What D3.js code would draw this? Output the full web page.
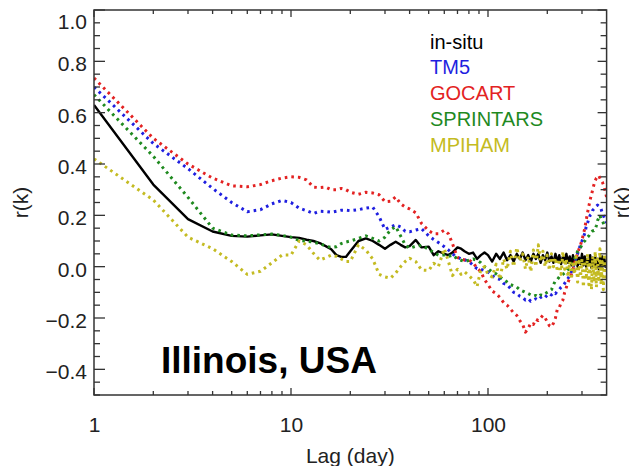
<!DOCTYPE html>
<html><head><meta charset="utf-8">
<script src="https://cdn.jsdelivr.net/npm/d3@7/dist/d3.min.js"></script>
<style>html,body{margin:0;padding:0;background:#fff;}svg{display:block;}</style>
</head><body>
<script>
// ---------- DATA ----------
const lags = [
  1,2,3,4,5,6,7,8,9,10,
  11,12,13,14,15,16,17,18,19,20,
  22,24,26,28,30,32,34,36,38,40,
  43,46,50,53,56,60,63,66,70,73,76,80,84,88,92,96,100,
  105,110,115,120,125,130,135,140,145,150,
  155,160,165,170,175,180,185,190,195,200,
  205,210,215,220,225,230,235,240,245,250,
  255,260,265,270,275,280,285,290,295,300,
  305,310,315,320,325,330,335,340,345,350,
  355,360,365,370,375,380,385,390,395,400
];
const insitu = [
  0.63,0.32,0.185,0.137,0.12,0.117,0.122,0.126,0.12,0.115,
  0.112,0.105,0.1,0.092,0.08,0.068,0.045,0.038,0.038,0.06,
  0.1,0.11,0.1,0.085,0.07,0.085,0.097,0.085,0.075,0.08,
  0.104,0.075,0.078,0.045,0.06,0.05,0.045,0.055,0.075,0.07,0.06,0.05,0.055,0.03,0.045,0.055,0.045,
  0.02,0.05,0.03,0.055,0.025,0.045,0.02,0.05,0.03,0.055,
  0.025,0.045,0.02,0.05,0.03,0.05,0.015,0.045,0.025,0.055,
  0.02,0.04,0.015,0.05,0.02,0.045,0.01,0.04,0.02,0.05,
  0.015,0.04,0.005,0.045,0.015,0.04,0.0,0.035,0.01,0.05,
  0.005,0.04,0.0,0.03,0.01,0.045,-0.005,0.035,0.005,0.04,
  0.0,0.03,-0.01,0.035,0.0,0.04,0.005,0.03,0.0,0.02
];
const tm5 = [
  0.70,0.48,0.382,0.305,0.25,0.214,0.222,0.245,0.258,0.25,
  0.228,0.218,0.207,0.216,0.215,0.212,0.216,0.22,0.22,0.218,
  0.222,0.228,0.232,0.195,0.145,0.155,0.163,0.155,0.138,0.136,
  0.143,0.148,0.12,0.106,0.094,0.078,0.065,0.05,0.037,0.03,0.027,0.02,0.005,-0.008,-0.01,-0.015,-0.02,
  -0.035,-0.045,-0.05,-0.065,-0.07,-0.085,-0.1,-0.105,-0.115,-0.12,
  -0.13,-0.125,-0.135,-0.13,-0.125,-0.13,-0.12,-0.115,-0.12,-0.11,
  -0.105,-0.11,-0.1,-0.105,-0.095,-0.09,-0.08,-0.075,-0.065,-0.055,
  -0.045,-0.035,-0.02,-0.005,0.015,0.035,0.05,0.07,0.085,0.1,
  0.115,0.13,0.155,0.17,0.185,0.2,0.205,0.22,0.225,0.23,
  0.235,0.24,0.235,0.23,0.225,0.21,0.2,0.19,0.18,0.17
];
const gocart = [
  0.735,0.50,0.40,0.345,0.315,0.311,0.32,0.335,0.345,0.35,
  0.348,0.338,0.31,0.308,0.31,0.30,0.30,0.305,0.30,0.29,
  0.282,0.29,0.287,0.28,0.253,0.255,0.272,0.245,0.232,0.225,
  0.21,0.168,0.14,0.128,0.128,0.142,0.128,0.09,0.035,0.03,0.026,0.026,0.015,-0.005,-0.02,-0.05,-0.07,
  -0.095,-0.105,-0.12,-0.14,-0.15,-0.165,-0.18,-0.19,-0.21,-0.225,
  -0.255,-0.24,-0.22,-0.225,-0.205,-0.21,-0.2,-0.19,-0.2,-0.215,
  -0.23,-0.235,-0.22,-0.2,-0.165,-0.16,-0.14,-0.13,-0.1,-0.08,
  -0.06,-0.045,-0.03,-0.01,0.01,0.035,0.05,0.07,0.085,0.105,
  0.125,0.15,0.18,0.21,0.235,0.26,0.28,0.3,0.32,0.335,
  0.345,0.35,0.355,0.345,0.335,0.33,0.32,0.305,0.29,0.27
];
const sprintars = [
  0.67,0.43,0.27,0.15,0.123,0.12,0.124,0.127,0.122,0.115,
  0.102,0.1,0.095,0.09,0.08,0.075,0.078,0.09,0.096,0.1,
  0.11,0.12,0.11,0.1,0.115,0.143,0.156,0.12,0.085,0.072,
  0.08,0.083,0.068,0.055,0.045,0.045,0.04,0.045,0.03,0.025,0.02,0.025,0.03,0.025,0.015,0.0,-0.008,
  -0.02,-0.028,-0.04,-0.05,-0.06,-0.07,-0.075,-0.08,-0.09,-0.095,
  -0.1,-0.105,-0.11,-0.115,-0.112,-0.118,-0.11,-0.112,-0.105,-0.1,
  -0.095,-0.09,-0.07,-0.055,-0.05,-0.04,-0.035,-0.03,-0.025,-0.02,
  -0.01,0.0,0.01,0.02,0.03,0.045,0.06,0.07,0.075,0.085,
  0.095,0.1,0.11,0.115,0.12,0.13,0.135,0.14,0.14,0.145,
  0.16,0.18,0.19,0.2,0.185,0.18,0.17,0.16,0.155,0.15
];
const mpiham = [
  0.42,0.26,0.115,0.07,0.02,-0.03,-0.018,0.015,0.045,0.045,
  0.1,0.085,0.052,0.026,0.035,0.045,0.04,0.03,0.02,0.02,
  0.085,0.065,0.03,-0.03,-0.04,-0.045,-0.025,0.0,0.02,0.033,
  0.02,-0.013,-0.015,0.013,0.0,0.07,0.02,-0.035,-0.01,-0.03,-0.02,-0.035,-0.05,-0.078,-0.01,0.0,-0.03,
  -0.04,0.01,-0.05,0.03,-0.01,0.06,0.0,0.075,0.02,0.05,
  -0.01,0.04,-0.02,0.065,0.0,0.085,0.02,0.06,0.0,0.045,
  -0.015,0.05,0.0,0.035,-0.02,0.03,-0.03,0.06,-0.01,0.03,
  -0.04,0.02,-0.05,0.01,-0.03,0.04,-0.06,0.02,-0.04,0.03,
  -0.08,0.01,-0.05,0.05,-0.07,0.02,-0.09,0.04,-0.06,0.06,
  -0.08,0.03,-0.05,0.07,-0.07,0.02,-0.09,0.05,-0.04,0.02
];
const seriesNames = ["in-situ","TM5","GOCART","SPRINTARS","MPIHAM"];
const seriesColors = ["#000000","#1f1fe0","#e32222","#1f8a1f","#c4bb22"];
const xMajorTicks = [1,10,100];
const xMinorTicks = [2,3,4,5,6,7,8,9,20,30,40,50,60,70,80,90,200,300];
const yTickLabels = [-0.4,-0.2,0.0,0.2,0.4,0.6,0.8];
const yTopLabel = "1.0";
const xLabel = "Lag (day)";
const yLabel = "r(k)";
const siteLabel = "Illinois, USA";

// ---------- LAYOUT ----------
const W = 629, H = 466;
const L = 94, R = 606.6, T = 10, B = 395;
const FONT = "'Liberation Sans', Arial, Helvetica, sans-serif";
const axisColor = "#333";

const svg = d3.select("body").append("svg").attr("width", W).attr("height", H)
  .style("font-family", FONT);

const x = d3.scaleLog().domain([1, 400]).range([L, R]);
const y = d3.scaleLinear().domain([-0.5, 1.0]).range([B, T]);

svg.append("clipPath").attr("id","clip").append("rect")
  .attr("x", L).attr("y", T).attr("width", R - L).attr("height", B - T);

// series
const allSeries = [insitu, tm5, gocart, sprintars, mpiham];
const line = d3.line().x((d,i) => x(lags[i])).y(d => y(d));
const g = svg.append("g").attr("clip-path","url(#clip)");
allSeries.forEach((vals, k) => {
  const p = g.append("path").datum(vals)
    .attr("d", line).attr("fill","none")
    .attr("stroke", seriesColors[k]).attr("stroke-linejoin","round");
  if (k === 0) {
    p.attr("stroke-width", 2.4);
  } else {
    p.attr("stroke-width", 3).attr("stroke-dasharray","2.6 4");
  }
});

// frame
svg.append("rect").attr("x", L).attr("y", T).attr("width", R - L).attr("height", B - T)
  .attr("fill","none").attr("stroke", axisColor).attr("stroke-width", 1.5);

// y ticks (inward, both sides)
const yMinor = d3.range(-10, 21).map(i => +(i * 0.05).toFixed(2));
yMinor.forEach(v => {
  const major = Math.abs(Math.round(v * 10) % 2) === 0 && Math.abs(v * 10 - Math.round(v * 10)) < 1e-6;
  const lenL = major ? 11 : 6, lenR = major ? 9 : 6;
  svg.append("line").attr("x1", L).attr("x2", L + lenL).attr("y1", y(v)).attr("y2", y(v))
    .attr("stroke", axisColor).attr("stroke-width", 1.3);
  svg.append("line").attr("x1", R).attr("x2", R - lenR).attr("y1", y(v)).attr("y2", y(v))
    .attr("stroke", axisColor).attr("stroke-width", 1.3);
});
// x ticks (inward, both sides)
xMajorTicks.concat(xMinorTicks).forEach(v => {
  const len = xMajorTicks.includes(v) ? 7 : 4;
  svg.append("line").attr("x1", x(v)).attr("x2", x(v)).attr("y1", B).attr("y2", B - len)
    .attr("stroke", axisColor).attr("stroke-width", 1.3);
  svg.append("line").attr("x1", x(v)).attr("x2", x(v)).attr("y1", T).attr("y2", T + len)
    .attr("stroke", axisColor).attr("stroke-width", 1.3);
});

// tick labels via axes
const yAxis = d3.axisLeft(y).tickValues(yTickLabels).tickSize(0).tickPadding(7)
  .tickFormat(d3.format(".1f"));
const ya = svg.append("g").attr("transform", `translate(${L},0)`).call(yAxis);
ya.select(".domain").remove();
ya.selectAll("text").attr("font-size", 21).attr("font-family", FONT).attr("fill","#222").attr("dy","0.45em");

svg.append("text").attr("x", L - 7).attr("y", y(0.962)).attr("dy","0.45em")
  .attr("text-anchor","end").attr("font-size", 21).attr("fill","#222").text(yTopLabel);

const xAxis = d3.axisBottom(x).tickValues(xMajorTicks).tickSize(0).tickPadding(22)
  .tickFormat(d3.format("d"));
const xa = svg.append("g").attr("transform", `translate(0,${B})`).call(xAxis);
xa.select(".domain").remove();
xa.selectAll("text").attr("font-size", 21).attr("font-family", FONT).attr("fill","#222");

// axis titles
svg.append("text").attr("x", (L + R) / 2).attr("y", 463).attr("text-anchor","middle")
  .attr("font-size", 21).attr("fill","#222").text(xLabel);
svg.append("text").attr("transform", `translate(28,${(T + B) / 2}) rotate(-90)`)
  .attr("text-anchor","middle").attr("font-size", 21).attr("fill","#222").text(yLabel);
svg.append("text").attr("transform", `translate(629,${(T + B) / 2}) rotate(-90)`)
  .attr("text-anchor","middle").attr("font-size", 21).attr("fill","#222").text(yLabel);

// legend
seriesNames.forEach((n, k) => {
  svg.append("text").attr("x", 430).attr("y", 48.5 + k * 25.8)
    .attr("font-size", 20).attr("fill", seriesColors[k]).text(n);
});

// site label
svg.append("text").attr("x", 161).attr("y", 373).attr("font-size", 37)
  .attr("font-weight","bold").attr("fill","#000").text(siteLabel);
</script>
</body></html>
